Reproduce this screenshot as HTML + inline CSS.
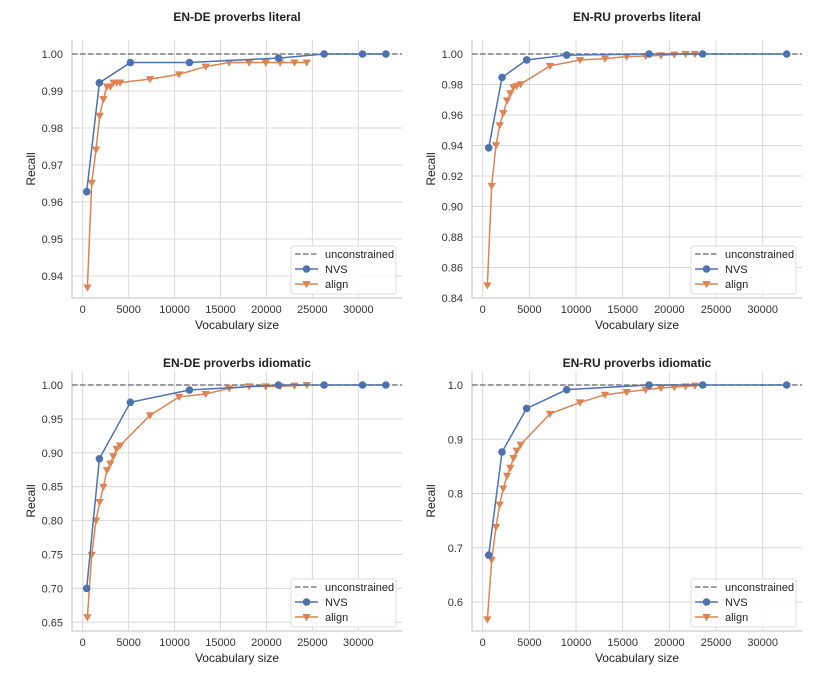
<!DOCTYPE html>
<html><head><meta charset="utf-8"><style>
body{margin:0;background:#fff;}
svg{display:block;font-family:"Liberation Sans",Arial,sans-serif;}
</style></head><body>
<svg id="fig" width="830" height="692" viewBox="0 0 830 692" xmlns="http://www.w3.org/2000/svg"></svg>
<script>
// ---- data ----
const deNvsX = [435,1815,5190,11620,21310,26280,30460,33000];
const alignDeX = [510,980,1450,1850,2250,2650,3010,3340,3700,4070,7330,10490,13390,15940,18110,19930,21490,23050,24390];
const ruNvsX = [643,2070,4710,9000,17820,23570,32570];
const alignRuX = [500,960,1430,1820,2210,2610,2960,3290,3640,4070,7210,10430,13100,15430,17460,19100,20530,21740,22740];

const deLitNvs = [0.9628,0.9922,0.9977,0.9977,0.9989,1.0,1.0,1.0];
const deLitAlign = [0.9369,0.9652,0.9742,0.9833,0.9878,0.9912,0.9912,0.9923,0.9923,0.9923,0.9932,0.9945,0.9966,0.9977,0.9977,0.9977,0.9977,0.9977,0.9977];
const ruLitNvs = [0.9385,0.9846,0.9961,0.9993,1.0,1.0,1.0];
const ruLitAlign = [0.8483,0.9135,0.9402,0.9533,0.9613,0.9696,0.9743,0.9783,0.9791,0.9802,0.9922,0.9961,0.9970,0.9983,0.9987,0.9991,0.9996,1.0,1.0];
const deIdNvs = [0.700,0.8912,0.9745,0.9926,1.0,1.0,1.0,1.0];
const deIdAlign = [0.6574,0.7495,0.800,0.8275,0.850,0.8745,0.8843,0.8951,0.9059,0.9108,0.9554,0.9824,0.9868,0.9951,0.998,0.998,0.998,0.999,1.0];
const ruIdNvs = [0.6864,0.8765,0.9568,0.9914,1.0,1.0,1.0];
const ruIdAlign = [0.5679,0.6778,0.7383,0.7796,0.8093,0.8327,0.8475,0.8654,0.879,0.8901,0.9469,0.9679,0.9821,0.987,0.9914,0.9944,0.9963,0.9975,0.9988];

const xTicks = [0,5000,10000,15000,20000,25000,30000];
const yTicksDeLit = [0.94,0.95,0.96,0.97,0.98,0.99,1.00];
const yTicksRuLit = [0.84,0.86,0.88,0.90,0.92,0.94,0.96,0.98,1.00];
const yTicksDeId = [0.65,0.70,0.75,0.80,0.85,0.90,0.95,1.00];
const yTicksRuId = [0.6,0.7,0.8,0.9,1.0];
const titles = ["EN-DE proverbs literal","EN-RU proverbs literal","EN-DE proverbs idiomatic","EN-RU proverbs idiomatic"];

const NS="http://www.w3.org/2000/svg";
const fig=document.getElementById('fig');
function mk(tag,attrs,parent){const e=document.createElementNS(NS,tag);for(const k in attrs)e.setAttribute(k,attrs[k]);(parent||fig).appendChild(e);return e;}

function panel(o){
  const g=mk('g',{});
  
  
  const sx=v=>o.x0px+(v/30000)*(o.x30px-o.x0px);
  const sy=v=>o.y1px+(1-v)/(o.yRefStep)*(o.yRefPx);
  const L=o.left,R=o.right,T=o.top,B=o.bottom;
  xTicks.forEach(t=>{
    const ln=mk('line',{x1:sx(t),x2:sx(t),y1:T,y2:B,stroke:'#d9d9d9','stroke-width':1},g);
    
    
    const tx=mk('text',{x:sx(t),y:B+15,'font-size':11,fill:'#333','text-anchor':'middle'},g);
    
    
    tx.textContent=t;
  });
  o.yTicks.forEach(t=>{
    const ln=mk('line',{x1:L,x2:R,y1:sy(t),y2:sy(t),stroke:'#d9d9d9','stroke-width':1},g);
    
    
    const tx=mk('text',{x:L-9,y:sy(t)+4,'font-size':11,fill:'#333','text-anchor':'end'},g);
    
    
    tx.textContent=t.toFixed(o.dec);
  });
  const sp=mk('path',{d:`M${L},${T}V${B}H${R}`,stroke:'#cccccc','stroke-width':1.2,fill:'none'},g);
  
  
  const u=mk('line',{x1:L,x2:R,y1:sy(1),y2:sy(1),stroke:'#7f7f7f','stroke-width':1.5,'stroke-dasharray':'5.5,2.5'},g);
  
  
  const ap=mk('polyline',{points:o.ax.map((x,i)=>sx(x)+','+sy(o.ay[i])).join(' '),fill:'none',stroke:'#dd8452','stroke-width':1.5},g);
  
  
  o.ax.forEach((x,i)=>{
    const cx=sx(x),cy=sy(o.ay[i]);
    const m=mk('path',{d:`M${cx-4.2},${cy-3}L${cx+4.2},${cy-3}L${cx},${cy+4.2}Z`,fill:'#dd8452'},g);
    
    
  });
  const np=mk('polyline',{points:o.nx.map((x,i)=>sx(x)+','+sy(o.ny[i])).join(' '),fill:'none',stroke:'#4c72b0','stroke-width':1.5},g);
  
  
  o.nx.forEach((x,i)=>{
    const m=mk('circle',{cx:sx(x),cy:sy(o.ny[i]),r:3.8,fill:'#4c72b0'},g);
    
    
  });
  const ti=mk('text',{x:(L+R)/2,y:o.titleY,'font-size':12,'font-weight':'bold',fill:'#222','text-anchor':'middle'},g);
  
  
  ti.textContent=o.title;
  const xl=mk('text',{x:(L+R)/2,y:B+31,'font-size':12,fill:'#222','text-anchor':'middle'},g);
  
  
  xl.textContent='Vocabulary size';
  const yl=mk('text',{x:0,y:0,'font-size':12,fill:'#222','text-anchor':'middle',transform:`translate(${L-37},${(T+B)/2}) rotate(-90)`},g);
  
  
  yl.textContent='Recall';
  const lx=R-111, ly=B-52;
  const lg=mk('g',{},g);
  
  
  mk('rect',{x:lx,y:ly,width:105,height:48,rx:3,fill:'#fff','fill-opacity':0.85,stroke:'#dcdcdc'},lg);
  const ents=[['unconstrained','#7f7f7f','dash'],['NVS','#4c72b0','o'],['align','#dd8452','v']];
  ents.forEach((e,i)=>{
    const yy=ly+8+i*15;
    const eg=mk('g',{},lg);
    
    
    mk('line',{x1:lx+4,x2:lx+27,y1:yy,y2:yy,stroke:e[1],'stroke-width':1.5,'stroke-dasharray':e[2]=='dash'?'5.5,2.5':'none'},eg);
    if(e[2]=='o')mk('circle',{cx:lx+15.5,cy:yy,r:3.8,fill:e[1]},eg);
    if(e[2]=='v')mk('path',{d:`M${lx+11.3},${yy-3}L${lx+19.7},${yy-3}L${lx+15.5},${yy+4.2}Z`,fill:e[1]},eg);
    const t=mk('text',{x:lx+34,y:yy+4,'font-size':11,fill:'#222'},eg);
    t.textContent=e[0];
  });
}

panel({name:'panel-en-de-literal',title:titles[0],titleY:21,left:72,right:402,top:40,bottom:298,x0px:82.7,x30px:358.3,y1px:54,yRefStep:0.01,yRefPx:37,yTicks:yTicksDeLit,dec:2,nx:deNvsX,ny:deLitNvs,ax:alignDeX,ay:deLitAlign});
panel({name:'panel-en-ru-literal',title:titles[1],titleY:21,left:472,right:802,top:40,bottom:298,x0px:482.7,x30px:762.7,y1px:54,yRefStep:0.02,yRefPx:30.5,yTicks:yTicksRuLit,dec:2,nx:ruNvsX,ny:ruLitNvs,ax:alignRuX,ay:ruLitAlign});
panel({name:'panel-en-de-idiomatic',title:titles[2],titleY:367,left:72,right:402,top:371,bottom:631,x0px:82.7,x30px:358.3,y1px:385,yRefStep:0.05,yRefPx:33.9,yTicks:yTicksDeId,dec:2,nx:deNvsX,ny:deIdNvs,ax:alignDeX,ay:deIdAlign});
panel({name:'panel-en-ru-idiomatic',title:titles[3],titleY:367,left:472,right:802,top:371,bottom:631,x0px:482.7,x30px:762.7,y1px:385,yRefStep:0.1,yRefPx:54.25,yTicks:yTicksRuId,dec:1,nx:ruNvsX,ny:ruIdNvs,ax:alignRuX,ay:ruIdAlign});
</script>
</body></html>
